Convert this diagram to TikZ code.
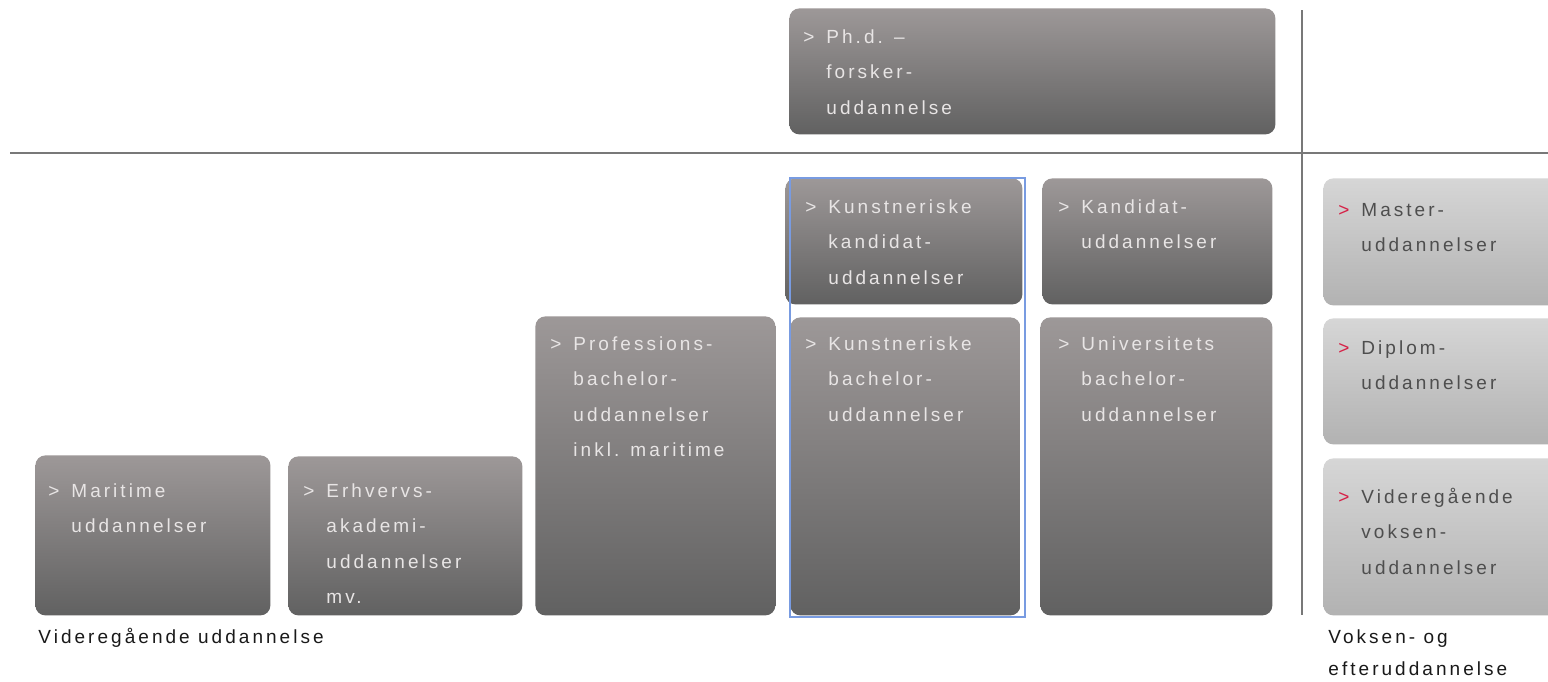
\documentclass[tikz,border=0pt]{standalone}
\usepackage{fontspec}
\setmainfont{Liberation Sans}[LetterSpace=16]
\usepackage{xcolor}
\usetikzlibrary{positioning}
\definecolor{darktop}{RGB}{157,152,152}
\definecolor{darkbot}{RGB}{97,97,97}
\definecolor{lighttop}{RGB}{214,214,214}
\definecolor{lightbot}{RGB}{178,178,178}
\definecolor{boxwhite}{RGB}{232,229,229}
\definecolor{boxgrey}{RGB}{78,78,78}
\definecolor{markred}{RGB}{214,32,70}
\definecolor{framblue}{RGB}{120,155,225}
\definecolor{rulegrey}{RGB}{120,120,120}
\newcommand{\bulmark}{\makebox[11.5pt][l]{>}}
\newcommand{\redmark}{\makebox[11.5pt][l]{\textcolor{markred}{>}}}
\newcommand{\bulind}{\hspace*{11.5pt}}
\newcommand{\boxlines}[1]{\begin{tabular}[t]{@{}l@{}}#1\end{tabular}}
\tikzset{
  darkbox/.style={rounded corners=5pt, top color=darktop, bottom color=darkbot, anchor=north west, inner sep=0pt},
  lightbox/.style={rounded corners=5pt, top color=lighttop, bottom color=lightbot, anchor=north west, inner sep=0pt},
  boxtext/.style={anchor=base west, inner sep=0pt, text=boxwhite},
  greytext/.style={boxtext, text=boxgrey},
  caption/.style={anchor=base west, inner sep=0pt, text=black!90},
  divider/.style={rulegrey, line width=1pt},
  frame/.style={draw=framblue, line width=0.6pt},
  every node/.style={font=\fontsize{9.5}{17.75}\selectfont}
}
\begin{document}
\begin{tikzpicture}[x=0.5pt,y=-0.5pt]
    \clip (0,0) rectangle (1548,681);
    \fill[white] (0,0) rectangle (1548,681);
    \draw[divider] (10,153) -- (1548,153);
    \draw[divider] (1302,10) -- (1302,615);
    \node[darkbox, minimum width=243pt, minimum height=63pt] (phd) at (789,8) {};
    \node[darkbox, minimum width=118.5pt, minimum height=63pt] (kkand) at (785,178) {};
    \node[darkbox, minimum width=115pt, minimum height=63pt] (kand) at (1042,178) {};
    \node[darkbox, minimum width=115pt, minimum height=149pt] (kbach) at (790,317) {};
    \node[darkbox, minimum width=116pt, minimum height=149pt] (ubach) at (1040,317) {};
    \node[darkbox, minimum width=120pt, minimum height=149.5pt] (prof) at (535,316) {};
    \node[darkbox, minimum width=117.5pt, minimum height=80pt] (marit) at (35,455) {};
    \node[darkbox, minimum width=117pt, minimum height=79.5pt] (erhv) at (288,456) {};
    \node[lightbox, minimum width=120pt, minimum height=63.5pt] (master) at (1323,178) {};
    \node[lightbox, minimum width=120pt, minimum height=63pt] (diplom) at (1323,318) {};
    \node[lightbox, minimum width=120pt, minimum height=78.5pt] (vvu) at (1323,458) {};
    \node[boxtext] (phdtxt) at ([shift={(14,35)}]phd.north west) {\boxlines{\bulmark Ph.d. --\\\bulind forsker-\\\bulind uddannelse}};
    \node[boxtext] (kkandtxt) at ([shift={(20,35)}]kkand.north west) {\boxlines{\bulmark Kunstneriske\\\bulind kandidat-\\\bulind uddannelser}};
    \node[boxtext] (kandtxt) at ([shift={(16,35)}]kand.north west) {\boxlines{\bulmark Kandidat-\\\bulind uddannelser}};
    \node[boxtext] (kbachtxt) at ([shift={(15,33)}]kbach.north west) {\boxlines{\bulmark Kunstneriske\\\bulind bachelor-\\\bulind uddannelser}};
    \node[boxtext] (ubachtxt) at ([shift={(18,33)}]ubach.north west) {\boxlines{\bulmark Universitets\\\bulind bachelor-\\\bulind uddannelser}};
    \node[boxtext] (proftxt) at ([shift={(15,34)}]prof.north west) {\boxlines{\bulmark Professions-\\\bulind bachelor-\\\bulind uddannelser\\\bulind inkl. maritime}};
    \node[boxtext] (marittxt) at ([shift={(13,42)}]marit.north west) {\boxlines{\bulmark Maritime\\\bulind uddannelser}};
    \node[boxtext] (erhvtxt) at ([shift={(15,41)}]erhv.north west) {\boxlines{\bulmark Erhvervs-\\\bulind akademi-\\\bulind uddannelser\\\bulind mv.}};
    \node[greytext] (mastertxt) at ([shift={(15,38)}]master.north west) {\boxlines{\redmark Master-\\\bulind uddannelser}};
    \node[greytext] (diplomtxt) at ([shift={(15,36)}]diplom.north west) {\boxlines{\redmark Diplom-\\\bulind uddannelser}};
    \node[greytext] (vvutxt) at ([shift={(15,45)}]vvu.north west) {\boxlines{\redmark Videregående\\\bulind voksen-\\\bulind uddannelser}};
    \draw[frame] (790,178) rectangle (1025,617);
    \node[caption] (vucap) at (38,643) {Videregående uddannelse};
    \node[caption, font=\fontsize{9.5}{16}\selectfont] (evucap) at (1328,643) {\boxlines{Voksen- og\\efteruddannelse}};
\end{tikzpicture}
\end{document}
